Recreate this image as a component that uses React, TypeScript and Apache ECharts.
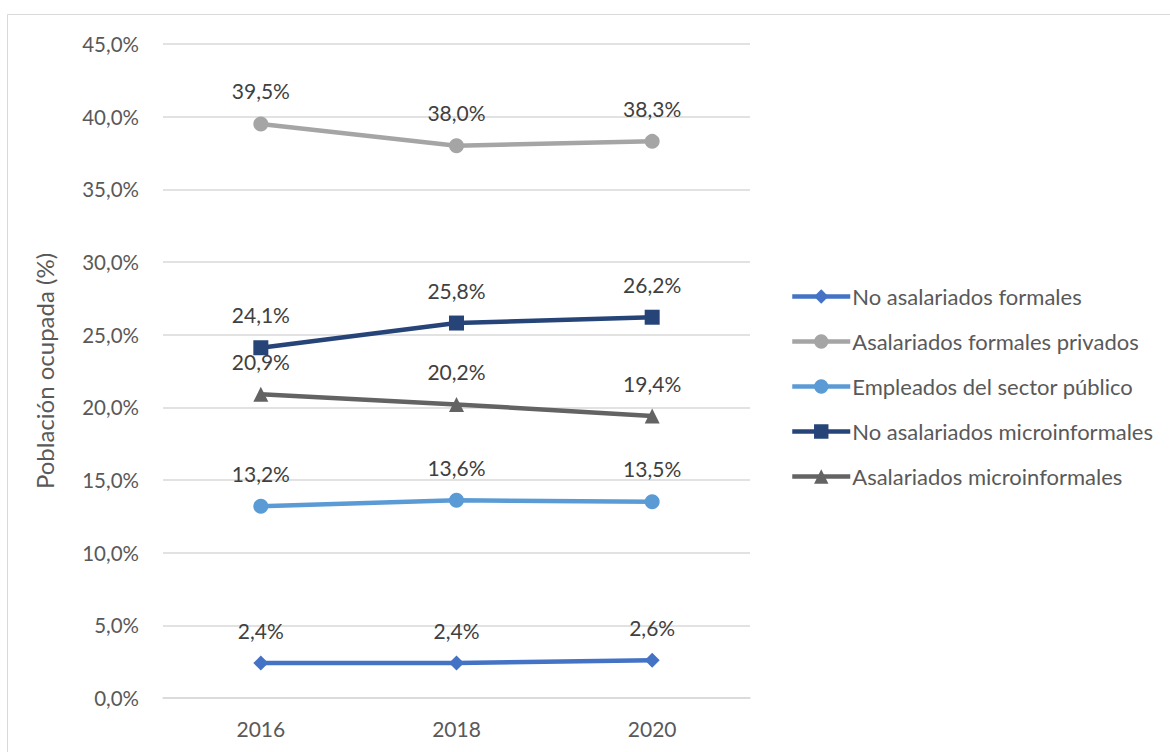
import React, { useEffect, useRef } from "react";
import * as echarts from "echarts";

const years = ["2016", "2018", "2020"];
const noAsalariadosFormales = [2.4, 2.4, 2.6];
const asalariadosFormalesPrivados = [39.5, 38.0, 38.3];
const empleadosSectorPublico = [13.2, 13.6, 13.5];
const noAsalariadosMicro = [24.1, 25.8, 26.2];
const asalariadosMicro = [20.9, 20.2, 19.4];

const seriesNames = [
  "No asalariados formales",
  "Asalariados formales privados",
  "Empleados del sector público",
  "No asalariados microinformales",
  "Asalariados microinformales",
];
const seriesColors = ["#4472C4", "#A5A5A5", "#5B9BD5", "#264478", "#636363"];
const seriesSymbols = ["diamond", "circle", "circle", "rect", "triangle"];
const seriesSizes = [15, 15, 15, 15, 15];

const FONT = "Lato";
const fmt = (v: number) => v.toFixed(1).replace(".", ",") + "%";

export default function App() {
  const ref = useRef<HTMLDivElement>(null);
  useEffect(() => {
    if (!ref.current) return;
    const chart = echarts.init(ref.current, undefined, { renderer: "svg" });
    const data = [
      noAsalariadosFormales,
      asalariadosFormalesPrivados,
      empleadosSectorPublico,
      noAsalariadosMicro,
      asalariadosMicro,
    ];
    chart.setOption({
      animation: false,
      backgroundColor: "#ffffff",
      textStyle: { fontFamily: FONT },
      graphic: [
        {
          type: "rect",
          shape: { x: 7.5, y: 14.5, width: 1200, height: 800 },
          style: { fill: "none", stroke: "#D9D9D9", lineWidth: 1 },
          silent: true,
        },
      ],
      grid: { left: 163, right: 420, top: 44, bottom: 54, containLabel: false },
      legend: {
        orient: "vertical",
        left: 785,
        top: 279,
        itemGap: 20,
        itemWidth: 58,
        itemHeight: 18,
        lineStyle: { width: 4.5 },
        textStyle: {
          color: "#595959",
          fontSize: 22,
          lineHeight: 25,
          fontFamily: FONT,
          padding: [0, 0, 0, -3],
        },
        data: seriesNames,
      },
      xAxis: {
        type: "category",
        data: years,
        boundaryGap: true,
        axisLine: { show: true, lineStyle: { color: "#D9D9D9", width: 1.5 } },
        axisTick: { show: false },
        axisLabel: { color: "#595959", fontSize: 21, margin: 20, fontFamily: FONT },
      },
      yAxis: {
        type: "value",
        min: 0,
        max: 45,
        interval: 5,
        name: "Población ocupada (%)",
        nameLocation: "middle",
        nameGap: 107,
        nameRotate: 90,
        nameTextStyle: { color: "#595959", fontSize: 24, fontFamily: FONT },
        axisLine: { show: false },
        axisTick: { show: false },
        splitLine: { lineStyle: { color: "#D9D9D9", width: 1.5 } },
        axisLabel: { color: "#595959", fontSize: 20.5, margin: 24, fontFamily: FONT, formatter: fmt },
      },
      series: data.map((d, i) => ({
        name: seriesNames[i],
        type: "line",
        data: d,
        symbol: seriesSymbols[i],
        symbolSize: seriesSizes[i],
        itemStyle: { color: seriesColors[i] },
        lineStyle: { color: seriesColors[i], width: 4.5 },
        label: {
          show: true,
          position: "top",
          distance: 15,
          color: "#404040",
          fontSize: 21,
          fontFamily: FONT,
          formatter: (p: any) => fmt(p.value),
        },
      })),
    });
    return () => chart.dispose();
  }, []);
  return (
    <div
      ref={ref}
      style={{ position: "fixed", left: 0, top: 0, width: 1170, height: 752 }}
    />
  );
}
